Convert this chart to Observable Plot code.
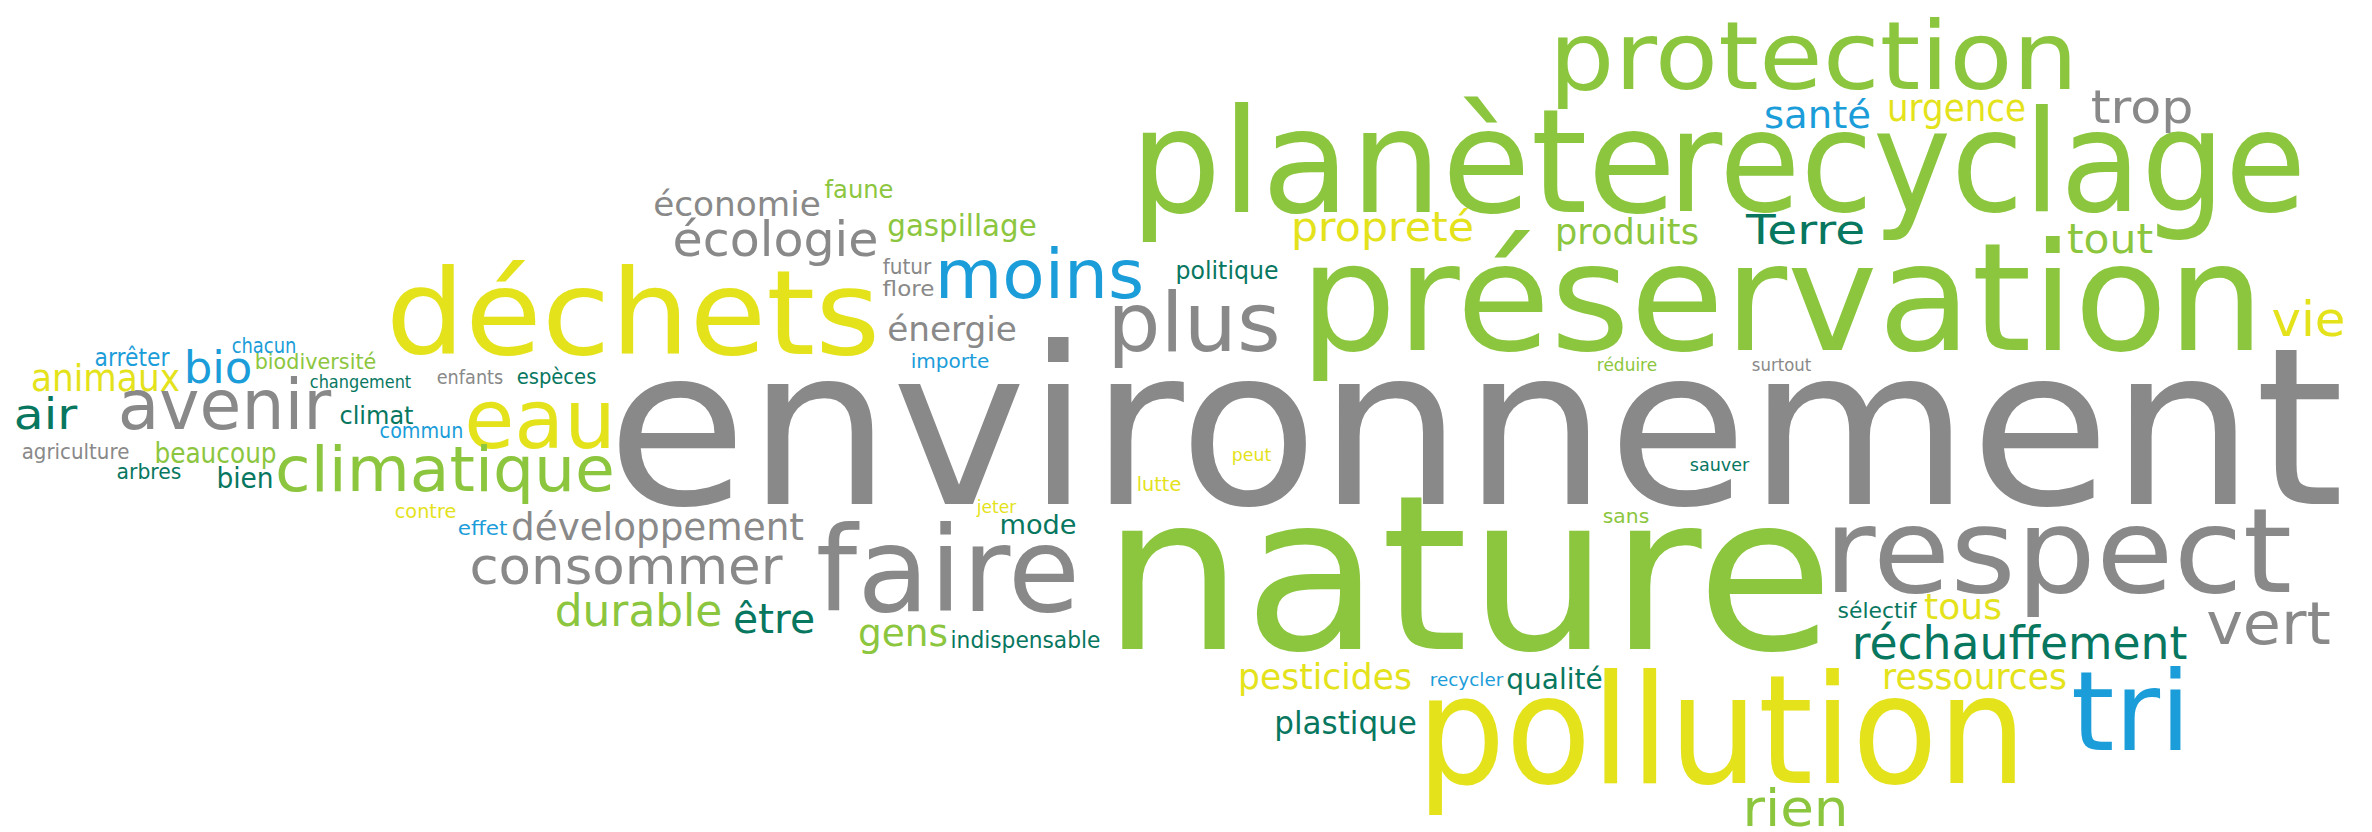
<!DOCTYPE html>
<html><head><meta charset="utf-8">
<script src="https://cdn.jsdelivr.net/npm/d3@7"></script>
<script src="https://cdn.jsdelivr.net/npm/@observablehq/plot@0.6"></script>
<style>html,body{margin:0;padding:0;background:#fff;} #chart svg{display:block;}</style>
</head><body><div id="chart"></div>
<script>
// Word cloud: word, colour group, layout box (left, right, baseline) and font size
const words = ["environnement","nature","préservation","planète","recyclage","protection","déchets","pollution","respect","faire","tri","plus","eau","avenir","climatique","moins","écologie","économie","consommer","développement","durable","être","vert","réchauffement","ressources","rien","vie","tout","trop","santé","urgence","propreté","produits","Terre","politique","gaspillage","faune","futur","flore","énergie","importe","bio","chacun","arrêter","biodiversité","changement","enfants","espèces","animaux","air","climat","commun","agriculture","beaucoup","arbres","bien","contre","effet","mode","jeter","lutte","peut","réduire","surtout","sauver","sans","sélectif","tous","gens","indispensable","pesticides","recycler","qualité","plastique"];
const groups = ["gris","vert","vert","vert","vert","vert","jaune","jaune","gris","gris","bleu","gris","jaune","gris","vert","bleu","gris","gris","gris","gris","vert","sarcelle","gris","sarcelle","jaune","vert","jaune","vert","gris","bleu","jaune","jaune","vert","sarcelle","sarcelle","vert","vert","gris","gris","gris","bleu","bleu","bleu","bleu","vert","sarcelle","gris","sarcelle","jaune","sarcelle","sarcelle","bleu","gris","vert","sarcelle","sarcelle","jaune","bleu","sarcelle","jaune","jaune","jaune","vert","gris","sarcelle","vert","sarcelle","jaune","vert","sarcelle","jaune","bleu","sarcelle","sarcelle"];
const xLeft = [615,1110,1305,1135,1673,1552,390,1422,1828,820,2075,1110,467,120,277,937,674,654,471,512,556,734,2208,1853,1883,1744,2273,2068,2092,1765,1888,1292,1556,1747,1176,888,825,883,883,888,911,185,232,95,255,310,437,517,32,15,340,380,22,155,117,217,395,458,1000,977,1137,1232,1597,1752,1690,1603,1838,1925,859,951,1239,1430,1507,1275];
const xRight = [2335,1825,2258,1670,2300,2074,875,2020,2287,1075,2186,1277,612,328,612,1141,876,819,780,802,720,813,2328,2185,2065,1846,2343,2151,2191,1869,2024,1472,1697,1863,1277,1035,892,930,933,1015,988,250,295,168,375,410,502,595,178,75,412,462,128,275,180,272,455,506,1075,1015,1180,1270,1656,1810,1748,1648,1915,2000,946,1099,1410,1502,1601,1415];
const baseline = [503,648,349,211,210,88,353,782,591,610,749,350,447,428,490,297,255,215,583,539,625,632,643,658,688,825,335,252,122,127,120,240,243,243,278,235,197,273,295,340,367,382,352,365,368,387,383,383,390,428,423,437,458,462,478,487,517,534,533,512,490,460,370,370,470,522,617,618,645,647,688,685,688,733];
const sizes = [220,215,150,145,140,95,118,152,118,118,110,82,82,70,62,68,48,34,52,37,44,40,58,46,36,52,48,40,46,38,38,40,36,40,25,30,24,21,22,34,20,45,21,24,21,17,19,21,38,42,25,22,21,28,22,28,19,20,27,17,19,18,17,17,18,19,22,36,38,23,36,18,29,32];
const colorNames = ["gris","vert","jaune","bleu","sarcelle"];
const colorValues = ["#898989","#8cc63e","#e4e21b","#1b9dd9","#08775f"];

const data = words.map((w, i) => ({word: w, group: groups[i], x0: xLeft[i], x1: xRight[i], y: baseline[i], size: sizes[i]}));
const W = 2372, H = 832;
const svg = Plot.plot({
  width: W, height: H, margin: 0,
  x: {domain: [0, W], range: [0, W], axis: null},
  y: {domain: [0, H], range: [0, H], axis: null},
  color: {domain: colorNames, range: colorValues},
  style: {background: "#fff"},
  marks: [
    Plot.text(data, {
      x: d => d.x0 - 0.04 * d.size, y: "y", text: "word", fill: "group",
      fontSize: d => d.size, textAnchor: "start", lineAnchor: "bottom",
      fontFamily: "DejaVu Sans"
    })
  ]
});
const sx = svg.scale("x");
const byWord = new Map(data.map(d => [d.word, d]));
svg.querySelectorAll("text").forEach(t => {
  const d = byWord.get(t.textContent);
  if (!d) return;
  const len = sx.apply(d.x1) - sx.apply(d.x0) + 0.08 * d.size;
  t.setAttribute("textLength", len);
  t.setAttribute("lengthAdjust", "spacingAndGlyphs");
});
document.getElementById("chart").append(svg);
</script>
</body></html>
